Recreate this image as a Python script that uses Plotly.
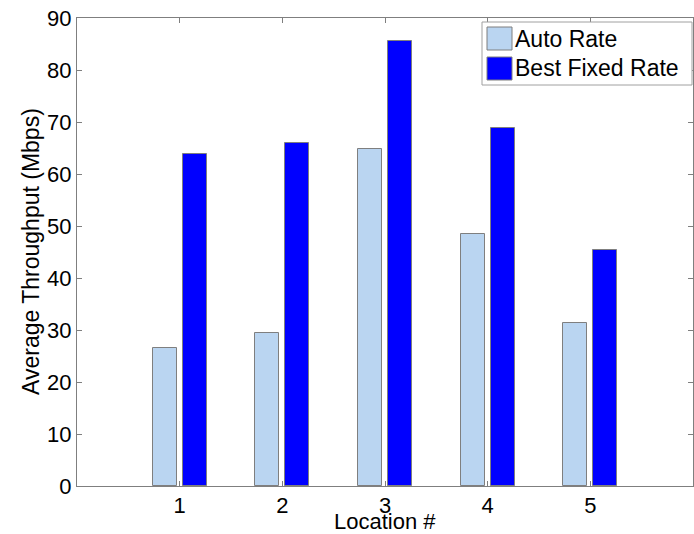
import plotly.graph_objects as go

# Throughput per measurement location
locations = [1, 2, 3, 4, 5]
auto_rate = [26.5, 29.5, 64.9, 48.5, 31.3]
best_fixed_rate = [63.8, 66.0, 85.6, 68.8, 45.4]
series_names = ["Auto Rate", "Best Fixed Rate"]
y_ticks = [0, 10, 20, 30, 40, 50, 60, 70, 80, 90]
x_title = "Location #"
y_title = "Average Throughput (Mbps)"

AUTO_COLOR = "#BAD5F1"
FIXED_COLOR = "#0000FF"
EDGE = "#7F7F7F"
FONT = "Liberation Sans, Arial, sans-serif"

fig = go.Figure()
fig.add_trace(go.Bar(
    x=locations, y=auto_rate, name=series_names[0],
    width=0.234, offset=-0.263,
    marker=dict(color=AUTO_COLOR, line=dict(color=EDGE, width=1)),
    showlegend=False,
))
fig.add_trace(go.Bar(
    x=locations, y=best_fixed_rate, name=series_names[1],
    width=0.234, offset=0.029,
    marker=dict(color=FIXED_COLOR, line=dict(color=EDGE, width=1)),
    showlegend=False,
))

W, H = 694, 534
L, R, T, B = 77, 1, 18, 48
pw, ph = W - L - R, H - T - B


def px(x):
    return (x - L) / pw


def py(y):
    return (H - B - y) / ph


shapes = []
annotations = []
# legend frame
shapes.append(dict(type="rect", xref="paper", yref="paper",
                   x0=px(482), x1=px(692), y0=py(85), y1=py(22),
                   line=dict(color="#A0A0A0", width=1), fillcolor="white", layer="above"))
swatches = [(AUTO_COLOR, 27, 50, 39), (FIXED_COLOR, 57, 80, 68)]
for name, (col, y0, y1, yc) in zip(series_names, swatches):
    shapes.append(dict(type="rect", xref="paper", yref="paper",
                       x0=px(487), x1=px(512), y0=py(y1), y1=py(y0),
                       line=dict(color=EDGE, width=1), fillcolor=col, layer="above"))
    annotations.append(dict(xref="paper", yref="paper", x=px(513), y=py(yc),
                            text=name, showarrow=False, xanchor="left", yanchor="middle",
                            font=dict(family=FONT, size=23, color="black")))

# axis titles
annotations.append(dict(xref="paper", yref="paper", x=px(385), y=py(521),
                        text=x_title, showarrow=False, xanchor="center", yanchor="middle",
                        borderpad=0,
                        font=dict(family=FONT, size=22, color="black")))
annotations.append(dict(xref="paper", yref="paper", x=px(31), y=0.5,
                        text=y_title, showarrow=False, textangle=-90,
                        xanchor="center", yanchor="middle",
                        font=dict(family=FONT, size=23, color="black")))

axis_common = dict(
    showline=True, linecolor=EDGE, linewidth=1, mirror="ticks",
    ticks="inside", ticklen=5, tickcolor=EDGE, tickwidth=1,
    showgrid=False, zeroline=False,
    tickfont=dict(family=FONT, size=22, color="black"),
)

fig.update_layout(
    width=W, height=H,
    margin=dict(l=L, r=R, t=T, b=B, pad=0),
    plot_bgcolor="white", paper_bgcolor="white",
    bargap=0, barmode="overlay",
    xaxis=dict(range=[0, 6], tickvals=locations, ticktext=[str(v) for v in locations],
               **axis_common),
    yaxis=dict(range=[0, 90], tickvals=y_ticks, **axis_common),
    shapes=shapes,
    annotations=annotations,
)

fig.write_html("out.html")
